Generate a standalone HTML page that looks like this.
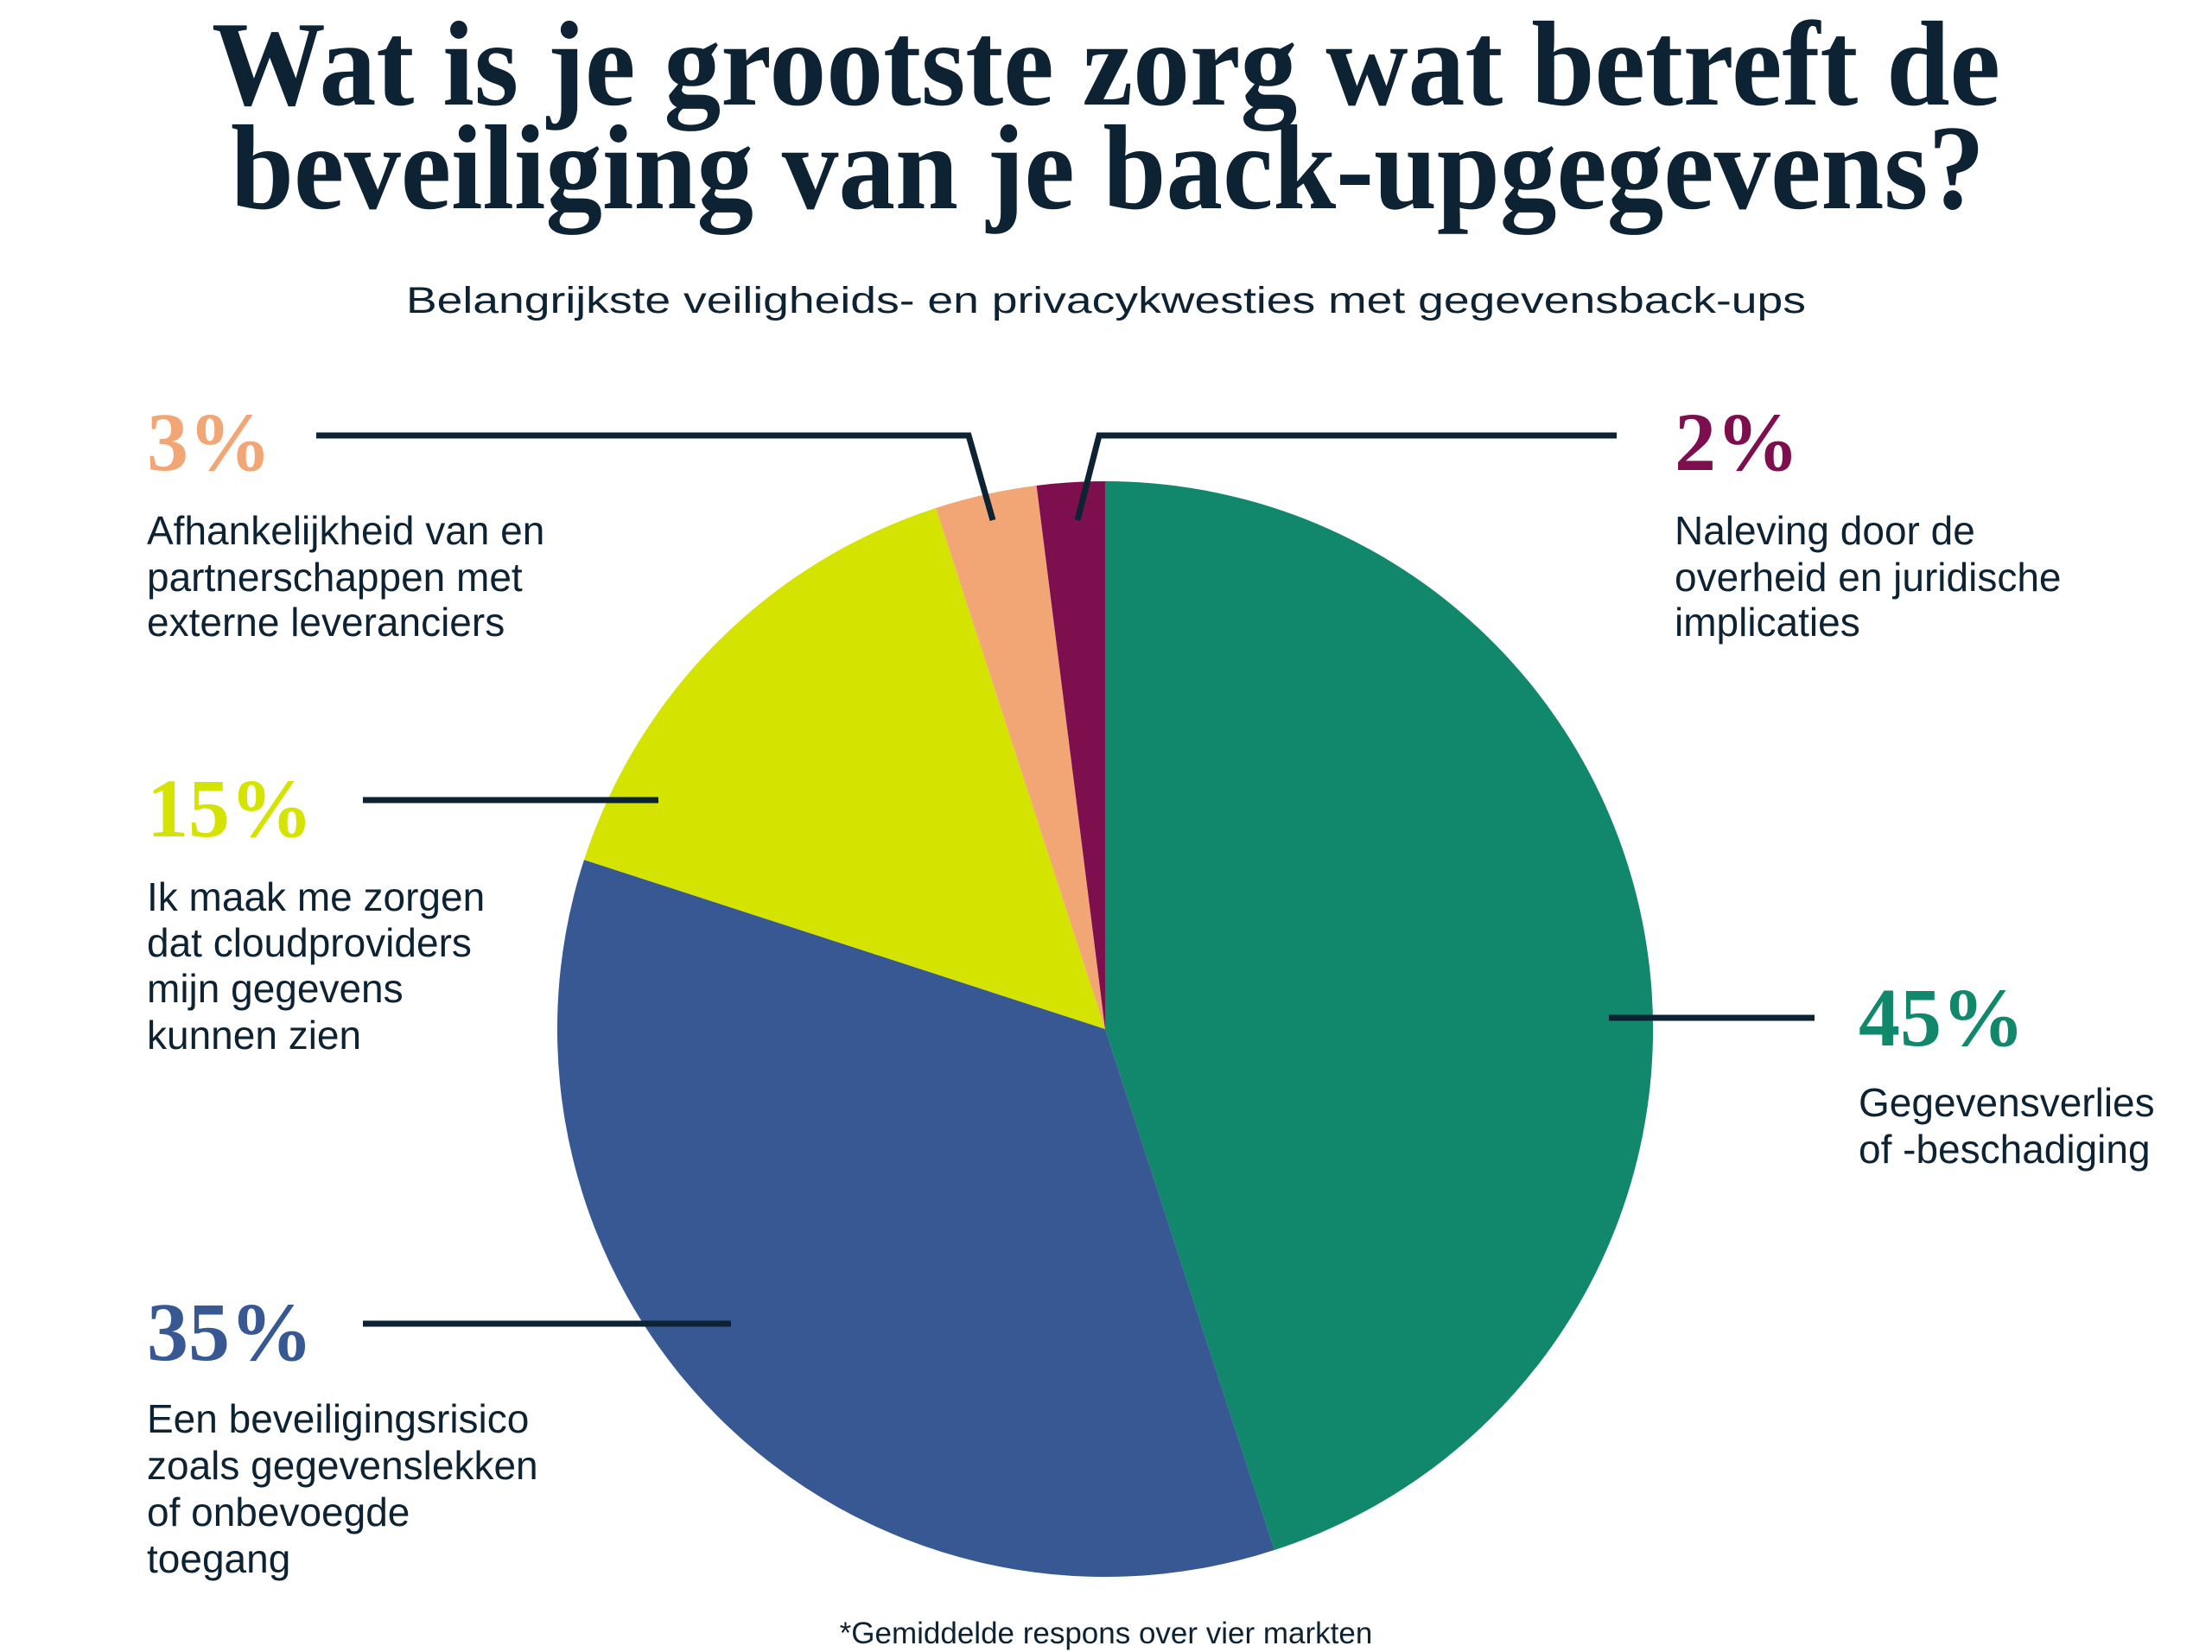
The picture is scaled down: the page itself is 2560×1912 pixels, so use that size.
<!DOCTYPE html>
<html><head><meta charset="utf-8"><style>html,body{margin:0;padding:0;background:#fff}svg{display:block}</style></head><body>
<svg width="2560" height="1912" viewBox="0 0 2560 1912" xmlns="http://www.w3.org/2000/svg">
<rect width="2560" height="1912" fill="#fff"/>
<g font-family="'Liberation Serif', serif" font-weight="bold" fill="#0d2233" text-anchor="middle">
<text x="1280" y="121" font-size="140" textLength="2070" lengthAdjust="spacingAndGlyphs">Wat is je grootste zorg wat betreft de</text>
<text x="1282" y="241" font-size="140" textLength="2030" lengthAdjust="spacingAndGlyphs">beveiliging van je back-upgegevens?</text>
</g>
<text x="1280" y="362" font-family="'Liberation Sans', sans-serif" font-size="43" fill="#0d2233" text-anchor="middle" textLength="1620" lengthAdjust="spacingAndGlyphs">Belangrijkste veiligheids- en privacykwesties met gegevensback-ups</text>
<g transform="translate(1279,1191)">
<path d="M0,0 L0,-634 A634,634 0 0 1 195.9,603 Z" fill="#11876b"/>
<path d="M0,0 L195.9,603 A634,634 0 0 1 -603,-195.9 Z" fill="#375893"/>
<path d="M0,0 L-603,-195.9 A634,634 0 0 1 -195.9,-603 Z" fill="#d4e300"/>
<path d="M0,0 L-195.9,-603 A634,634 0 0 1 -79.4,-629 Z" fill="#f2a575"/>
<path d="M0,0 L-79.4,-629 A634,634 0 0 1 0,-634 Z" fill="#7d0f4e"/>
</g>
<g stroke="#0d2233" stroke-width="7" fill="none">
<polyline points="366,504 1121,504 1149,602"/>
<polyline points="1871,504 1272,504 1247,602"/>
<line x1="420" y1="926" x2="762" y2="926"/>
<line x1="420" y1="1532" x2="846" y2="1532"/>
<line x1="1862" y1="1178" x2="2100" y2="1178"/>
</g>
<g font-family="'Liberation Serif', serif" font-weight="bold" font-size="96">
<text x="170" y="544" fill="#f2a575">3%</text>
<text x="1938" y="544" fill="#7d0f4e">2%</text>
<text x="170" y="968" fill="#d4e300">15%</text>
<text x="170" y="1574" fill="#375893">35%</text>
<text x="2151" y="1210" fill="#11876b">45%</text>
</g>
<g font-family="'Liberation Sans', sans-serif" font-size="46" fill="#0d2233">
<text x="170" y="630">Afhankelijkheid van en</text>
<text x="170" y="684">partnerschappen met</text>
<text x="170" y="736">externe leveranciers</text>
<text x="1938" y="630">Naleving door de</text>
<text x="1938" y="684">overheid en juridische</text>
<text x="1938" y="736">implicaties</text>
<text x="170" y="1054">Ik maak me zorgen</text>
<text x="170" y="1107">dat cloudproviders</text>
<text x="170" y="1160">mijn gegevens</text>
<text x="170" y="1214">kunnen zien</text>
<text x="170" y="1658">Een beveiligingsrisico</text>
<text x="170" y="1712">zoals gegevenslekken</text>
<text x="170" y="1766">of onbevoegde</text>
<text x="170" y="1820">toegang</text>
<text x="2151" y="1292">Gegevensverlies</text>
<text x="2151" y="1346">of -beschadiging</text>
</g>
<text x="1280" y="1902" font-family="'Liberation Sans', sans-serif" font-size="35" fill="#0d2233" text-anchor="middle">*Gemiddelde respons over vier markten</text>
</svg>
</body></html>
